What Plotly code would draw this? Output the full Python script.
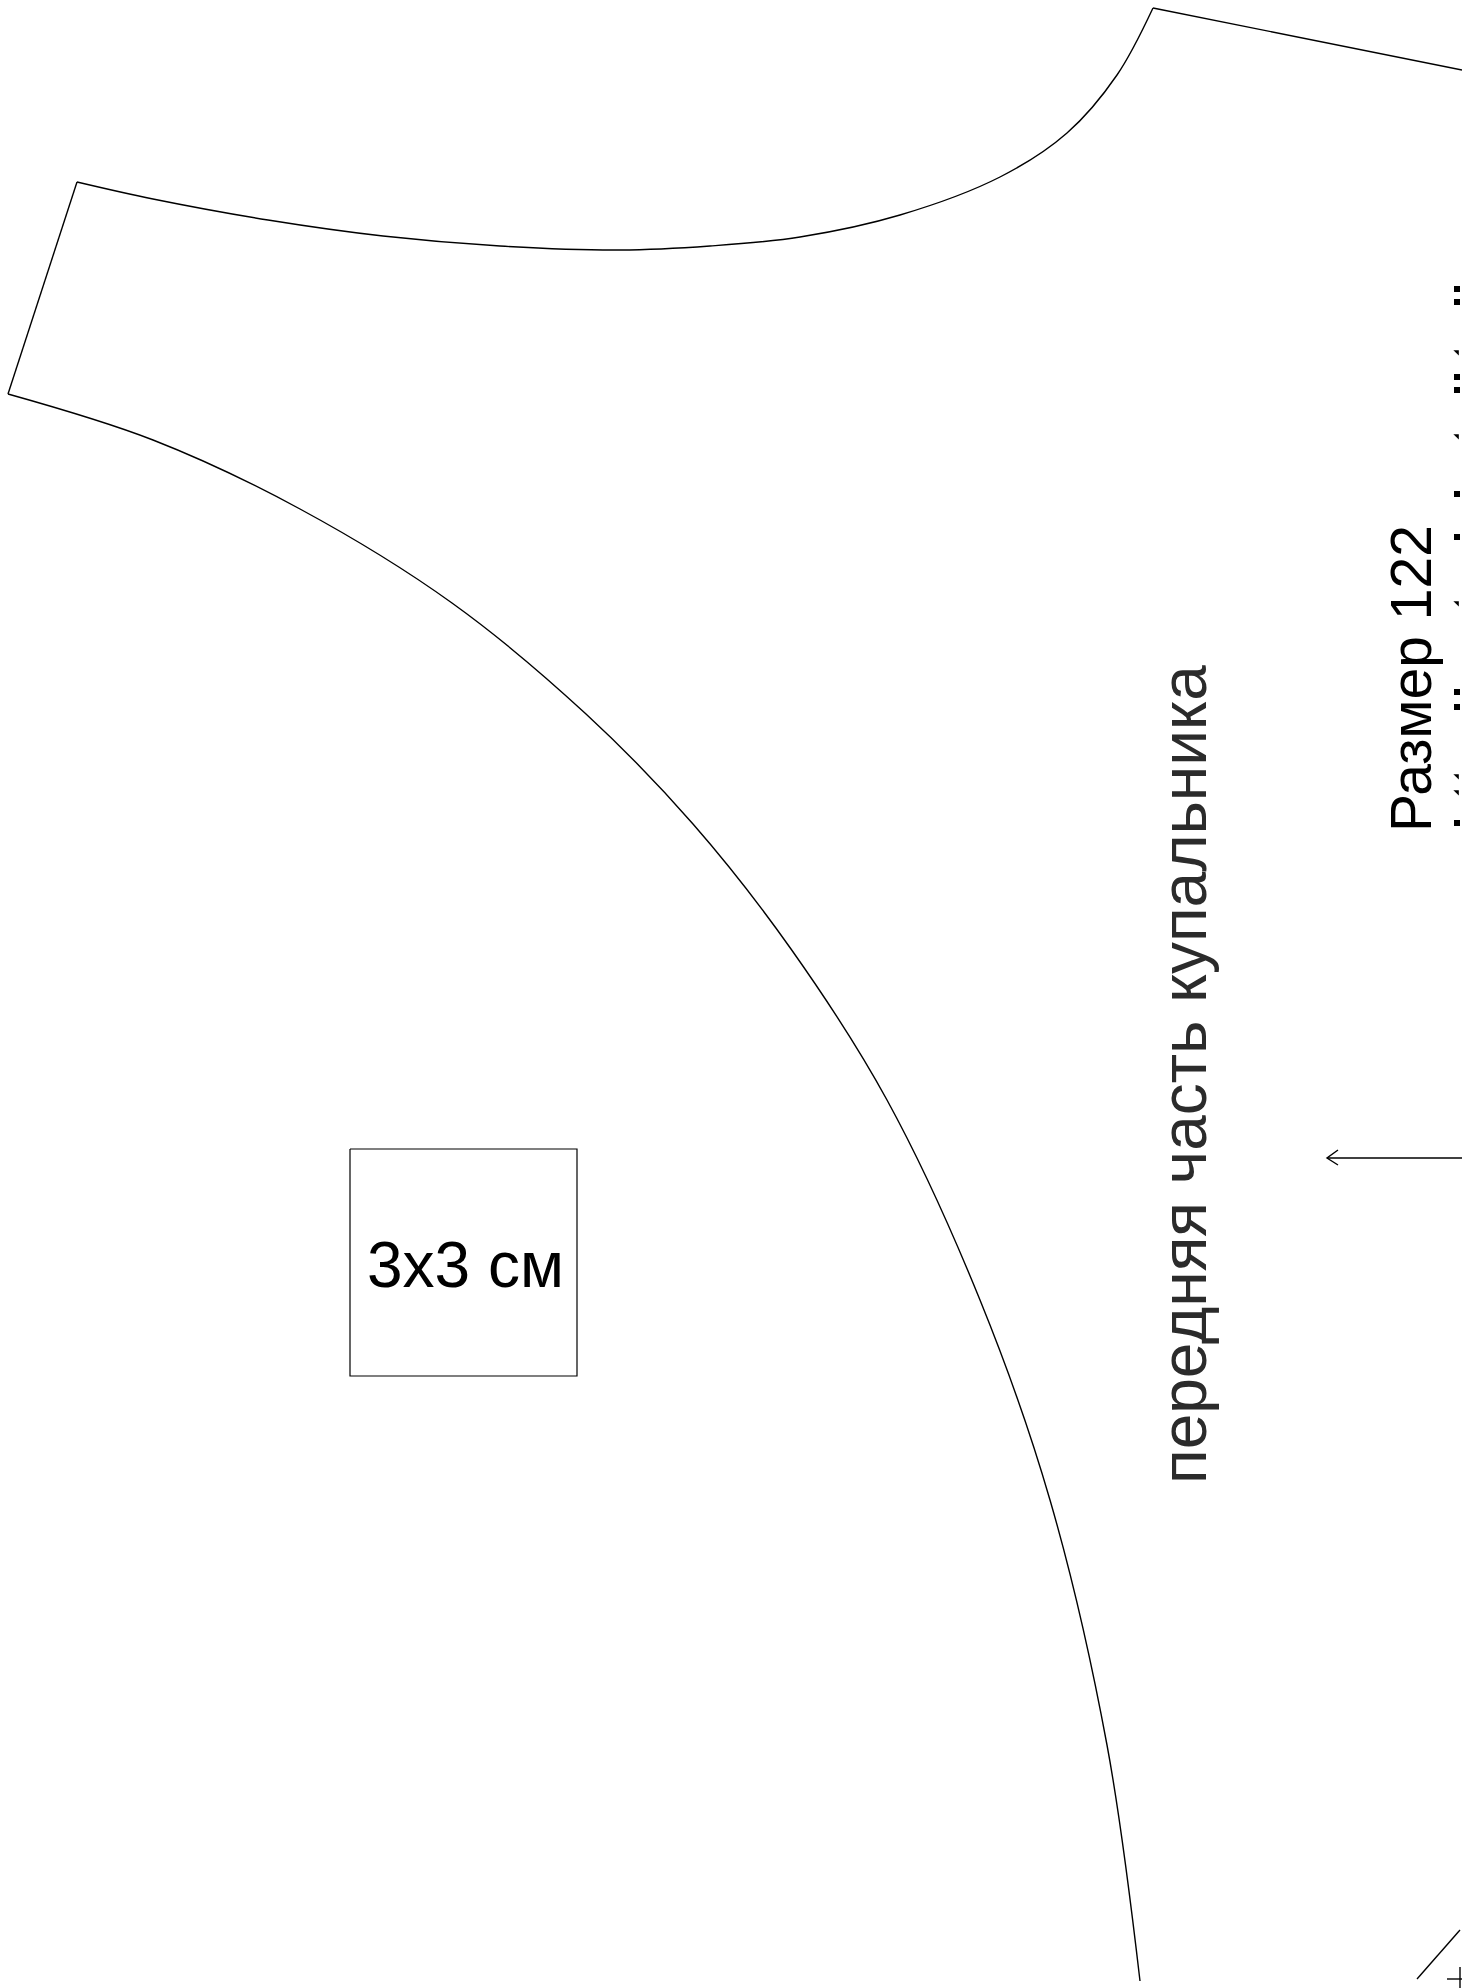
import plotly.graph_objects as go

W, H = 1462, 1988

shoulder_x = [1153, 1462]
shoulder_y = [8, 70]
neck_x = [1153, 1117, 1067, 1000, 900, 800, 710, 620, 500, 383, 268, 153, 77]
neck_y = [8, 75, 133, 177, 215, 237, 246, 250, 246, 236, 220, 199, 182]
strap_x = [77, 8]
strap_y = [182, 394]
arm_x = [8, 153, 300, 452, 586, 693, 791, 887, 980, 1050, 1107, 1140]
arm_y = [394, 440, 509, 603, 714, 824, 949, 1100, 1300, 1500, 1745, 1981]

box_x = [350, 577, 577, 350, 350]
box_y = [1149, 1149, 1376, 1376, 1149]
arrow_x = [1462, 1327]
arrow_y = [1158, 1158]
head_x = [1338, 1327, 1338]
head_y = [1150, 1158, 1165]
diag_x = [1460, 1417]
diag_y = [1930, 1979]
cross_h_x = [1447, 1462]
cross_h_y = [1979, 1979]
cross_v_x = [1460, 1460]
cross_v_y = [1967, 1988]

mark_y = [289, 302, 352, 377, 390, 436, 494, 537, 603, 692, 707, 776, 792, 823]
mark_sym = ["square", "square", "triangle-ne", "square", "square", "triangle-ne", "square",
            "square", "triangle-ne", "square", "square", "triangle-ne", "triangle-ne", "square"]
mark_x = [1457] * len(mark_y)

labels = ["передняя часть купальника", "Размер 122", "3x3 см"]
label_x = [1184, 1411, 465]
label_y = [1075, 679, 1265]
label_size = [64, 57, 64]
label_angle = [-90, -90, 0]
label_color = ["#2b2b2b", "#000000", "#000000"]

fig = go.Figure()


def line(x, y, shape="linear", width=1.4):
    fig.add_trace(go.Scatter(x=x, y=y, mode="lines",
                             line=dict(color="black", width=width, shape=shape, smoothing=1.0),
                             showlegend=False, hoverinfo="skip"))


line(shoulder_x, shoulder_y)
line(neck_x, neck_y, "spline")
line(strap_x, strap_y)
line(arm_x, arm_y, "spline")
line(box_x, box_y, width=1.2)
line(arrow_x, arrow_y)
line(head_x, head_y)
line(diag_x, diag_y)
line(cross_h_x, cross_h_y)
line(cross_v_x, cross_v_y)

fig.add_trace(go.Scatter(x=mark_x, y=mark_y, mode="markers",
                         marker=dict(symbol=mark_sym, size=6, color="black", line=dict(width=0)),
                         showlegend=False, hoverinfo="skip"))

for t, x, y, s, a, c in zip(labels, label_x, label_y, label_size, label_angle, label_color):
    fig.add_annotation(x=x, y=y, xref="x", yref="y", text=t, showarrow=False,
                       textangle=a, xanchor="center", yanchor="middle",
                       font=dict(family="Liberation Sans", size=s, color=c))

fig.update_layout(width=W, height=H, margin=dict(l=0, r=0, t=0, b=0),
                  paper_bgcolor="white", plot_bgcolor="white", autosize=False,
                  xaxis=dict(range=[0, W], visible=False, fixedrange=True),
                  yaxis=dict(range=[H, 0], visible=False, fixedrange=True))
fig.write_html("out.html", config={"displayModeBar": False},
               post_script="document.body.style.margin='0';document.body.style.overflow='hidden';")
